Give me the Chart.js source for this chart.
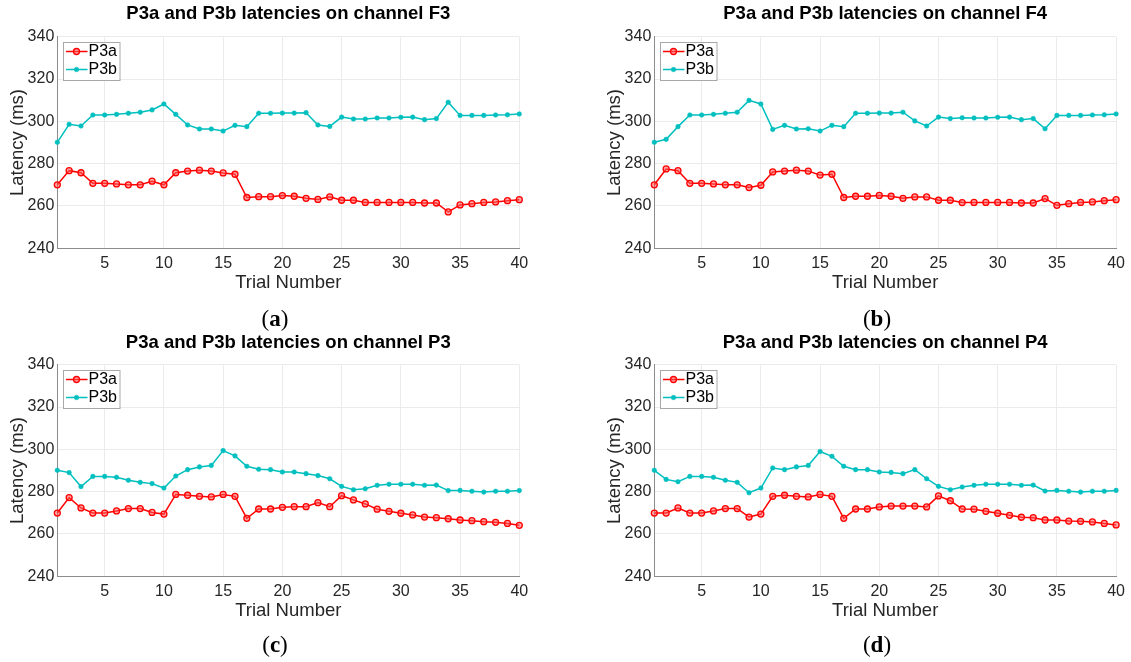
<!DOCTYPE html>
<html>
<head>
<meta charset="utf-8">
<script src="https://cdn.jsdelivr.net/npm/chart.js@4.4.1/dist/chart.umd.min.js"></script>
<style>
  body { margin: 0; background: #fff; }
  #fig { position: relative; width: 1131px; height: 662px; overflow: hidden; }
  .panel { position: absolute; }
  .cap {
    position: absolute;
    transform: translate(-50%, -50%);
    font-family: "Liberation Serif", "DejaVu Serif", serif;
    font-size: 23px;
    color: #000;
    white-space: nowrap;
  }
  .cap b { font-weight: bold; }
</style>
</head>
<body>
<div id="fig">
  <canvas class="panel" id="chF3" width="597" height="328" style="left:0;top:0"></canvas>
  <canvas class="panel" id="chF4" width="534" height="328" style="left:597px;top:0"></canvas>
  <canvas class="panel" id="chP3" width="597" height="334" style="left:0;top:328px"></canvas>
  <canvas class="panel" id="chP4" width="534" height="334" style="left:597px;top:328px"></canvas>
  <div class="cap" style="left:275px;top:319px">(<b>a</b>)</div>
  <div class="cap" style="left:877px;top:319px">(<b>b</b>)</div>
  <div class="cap" style="left:275px;top:645px">(<b>c</b>)</div>
  <div class="cap" style="left:877px;top:645px">(<b>d</b>)</div>
</div>
<script>
// trial numbers on the x axis
const trials = [1, 2, 3, 4, 5, 6, 7, 8, 9, 10, 11, 12, 13, 14, 15, 16, 17, 18, 19, 20,
                21, 22, 23, 24, 25, 26, 27, 28, 29, 30, 31, 32, 33, 34, 35, 36, 37, 38, 39, 40];
const xTicks = [5, 10, 15, 20, 25, 30, 35, 40];
const yTicks = [240, 260, 280, 300, 320, 340];

// latencies (ms) per channel
const f3P3a = [270, 276.7, 275.7, 270.7, 270.7, 270.4, 270, 270, 271.7, 270,
               275.7, 276.5, 276.9, 276.5, 275.6, 275, 264, 264.4, 264.4, 264.9,
               264.6, 263.6, 263.1, 264.3, 262.7, 262.7, 261.7, 261.7, 261.7, 261.7,
               261.7, 261.4, 261.4, 257.2, 260.5, 261.1, 261.7, 261.9, 262.5, 263];
const f3P3b = [290.1, 298.6, 297.8, 303, 303, 303.3, 303.8, 304.3, 305.4, 308.2,
               303.3, 298.3, 296.4, 296.4, 295.4, 298.1, 297.5, 303.8, 303.8, 303.9,
               303.9, 304.1, 298.3, 297.6, 302, 301.1, 301.1, 301.6, 301.6, 301.9,
               302, 300.8, 301.3, 309, 302.8, 302.8, 302.8, 303, 303.1, 303.5];
const f4P3a = [270, 277.5, 276.7, 270.7, 270.7, 270.4, 270, 270, 268.7, 269.8,
               276.1, 276.5, 276.9, 276.5, 274.6, 275, 264, 264.6, 264.6, 265,
               264.6, 263.6, 264.3, 264.3, 262.7, 262.7, 261.6, 261.7, 261.7, 261.7,
               261.7, 261.4, 261.4, 263.5, 260.3, 261.1, 261.7, 261.9, 262.5, 263];
const f4P3b = [290.1, 291.5, 297.5, 303, 303, 303.3, 303.8, 304.3, 309.9, 308.2,
               296.2, 298.1, 296.4, 296.5, 295.4, 298.1, 297.5, 303.8, 303.8, 303.9,
               303.9, 304.3, 300.2, 297.8, 302, 301.3, 301.7, 301.6, 301.6, 301.9,
               302, 300.8, 301.3, 296.5, 302.8, 302.8, 302.8, 303, 303.1, 303.5];
const p3P3a = [269.9, 277.2, 272.3, 269.9, 269.9, 270.9, 272, 272, 270.2, 269.4,
               278.7, 278.3, 277.8, 277.5, 278.7, 277.8, 267.4, 271.8, 271.8, 272.6,
               272.9, 272.9, 274.8, 272.9, 278.1, 276.1, 274.2, 271.7, 270.7, 269.8,
               269, 268, 267.7, 267.2, 266.6, 266.3, 265.8, 265.5, 265, 264.1];
const p3P3b = [290.1, 289, 282.4, 287.2, 287.2, 286.8, 285.4, 284.4, 283.8, 281.7,
               287.4, 290.4, 291.7, 292.4, 299.4, 296.9, 292, 290.6, 290.4, 289.3,
               289.3, 288.5, 287.6, 286.1, 282.5, 280.9, 281.4, 283, 283.5, 283.5,
               283.5, 283, 283.1, 280.5, 280.6, 280.2, 279.8, 280.2, 280.2, 280.5];
const p4P3a = [269.9, 269.9, 272.3, 269.9, 269.9, 270.9, 272, 272, 268, 269.4,
               277.8, 278.3, 277.8, 277.5, 278.7, 277.8, 267.4, 271.8, 271.8, 272.8,
               273.2, 273.2, 273.2, 272.8, 278, 275.7, 271.8, 271.7, 270.7, 269.8,
               268.8, 267.9, 267.7, 266.6, 266.6, 266.1, 266, 265.7, 265, 264.3];
const p4P3b = [290.1, 285.8, 284.7, 287.2, 287.2, 286.8, 285.4, 284.4, 279.5, 281.7,
               291.2, 290.4, 291.7, 292.4, 299, 296.7, 292, 290.4, 290.4, 289.3,
               289.1, 288.5, 290.4, 286.1, 282.5, 280.9, 282.2, 283, 283.5, 283.5,
               283.5, 283, 283.1, 280.3, 280.6, 280.2, 279.8, 280.2, 280.2, 280.6];

const RED = "#ff0000";
const CYAN = "#00bfbf";
const FONT = "'Liberation Sans', Arial, sans-serif";

// plot box inside every panel canvas
const PLOT_LEFT = 57.3;
const PLOT_TOP = 36.7;
const PLOT_H = 211.6;

// title over the axes + legend box in the upper left corner
const panelDecor = {
    id: "panelDecor",
    afterDatasetsDraw(chart, args, opts) {
        const {ctx, chartArea} = chart;
        ctx.save();
        ctx.font = "bold 18.5px " + FONT;
        ctx.fillStyle = "#000";
        ctx.textAlign = "center";
        ctx.textBaseline = "middle";
        ctx.fillText(opts.title, (chartArea.left + chartArea.right) / 2, opts.titleY);

        // legend
        const bx = chartArea.left + 5.7, by = chartArea.top + 5.3, bw = 56.5, bh = 38;
        ctx.fillStyle = "#fff";
        ctx.fillRect(bx, by, bw, bh);
        ctx.strokeStyle = "#a8a8a8";
        ctx.lineWidth = 1;
        ctx.strokeRect(Math.round(bx) + 0.5, Math.round(by) + 0.5, bw, bh);
        chart.data.datasets.forEach((ds, i) => {
            const y = by + 9.5 + i * 18;
            ctx.strokeStyle = ds.borderColor;
            ctx.lineWidth = 1.5;
            ctx.beginPath();
            ctx.moveTo(bx + 3, y);
            ctx.lineTo(bx + 24.5, y);
            ctx.stroke();
            ctx.beginPath();
            ctx.arc(bx + 13.5, y, ds.pointRadius, 0, Math.PI * 2);
            ctx.fillStyle = ds.pointBackgroundColor;
            ctx.fill();
            ctx.lineWidth = ds.pointBorderWidth;
            ctx.strokeStyle = ds.pointBorderColor;
            ctx.stroke();
            ctx.fillStyle = "#000";
            ctx.font = "16px " + FONT;
            ctx.textAlign = "left";
            ctx.fillText(ds.label, bx + 25.5, y + 0.5);
        });
        ctx.restore();
    }
};

function toPoints(vals) {
    return trials.map((t, i) => ({x: t, y: vals[i]}));
}

function makePanel(id, channel, p3a, p3b, titleY) {
    const canvas = document.getElementById(id);
    const W = canvas.width, H = canvas.height;
    const plotRight = W === 597 ? 519.3 : 520.3;
    const xAxisH = H - PLOT_TOP - PLOT_H;

    return new Chart(canvas, {
        type: "line",
        data: {
            datasets: [{
                label: "P3a",
                data: toPoints(p3a),
                borderColor: RED,
                borderWidth: 1.5,
                pointRadius: 3,
                pointBorderWidth: 1.3,
                pointBorderColor: RED,
                pointBackgroundColor: "rgba(255,90,90,0.55)",
                tension: 0,
                clip: false
            }, {
                label: "P3b",
                data: toPoints(p3b),
                borderColor: CYAN,
                borderWidth: 1.5,
                pointRadius: 2.3,
                pointBorderWidth: 0.5,
                pointBorderColor: CYAN,
                pointBackgroundColor: CYAN,
                tension: 0,
                clip: false
            }]
        },
        options: {
            responsive: false,
            animation: false,
            devicePixelRatio: 1,
            layout: {
                padding: {left: 0, top: PLOT_TOP, right: W - plotRight, bottom: 0}
            },
            plugins: {
                legend: {display: false},
                tooltip: {enabled: false},
                panelDecor: {title: "P3a and P3b latencies on channel " + channel, titleY: titleY}
            },
            scales: {
                x: {
                    type: "linear",
                    min: 1,
                    max: 40,
                    afterBuildTicks: (scale) => {
                        scale.ticks = xTicks.map(v => ({value: v}));
                    },
                    afterFit: (scale) => { scale.height = xAxisH; },
                    grid: {color: "#ebebeb", lineWidth: 1, drawTicks: false},
                    border: {color: "#8c8c8c", width: 1},
                    ticks: {
                        padding: 6,
                        color: "#262626",
                        font: {family: FONT, size: 16},
                        maxRotation: 0
                    },
                    title: {
                        display: true,
                        text: "Trial Number",
                        color: "#262626",
                        font: {family: FONT, size: 18.5},
                        padding: {top: 0, bottom: H - 283 - 11.1}
                    }
                },
                y: {
                    min: 240,
                    max: 340,
                    afterBuildTicks: (scale) => {
                        scale.ticks = yTicks.map(v => ({value: v}));
                    },
                    afterFit: (scale) => { scale.width = PLOT_LEFT; },
                    grid: {color: "#ebebeb", lineWidth: 1, drawTicks: false},
                    border: {color: "#8c8c8c", width: 1},
                    ticks: {
                        padding: 3,
                        color: "#262626",
                        font: {family: FONT, size: 16}
                    },
                    title: {
                        display: true,
                        text: "Latency (ms)",
                        color: "#262626",
                        font: {family: FONT, size: 18.5},
                        padding: {top: 6.5, bottom: 0}
                    }
                }
            }
        },
        plugins: [panelDecor]
    });
}

makePanel("chF3", "F3", f3P3a, f3P3b, 14);
makePanel("chF4", "F4", f4P3a, f4P3b, 14);
makePanel("chP3", "P3", p3P3a, p3P3b, 15);
makePanel("chP4", "P4", p4P3a, p4P3b, 15);
</script>
</body>
</html>
